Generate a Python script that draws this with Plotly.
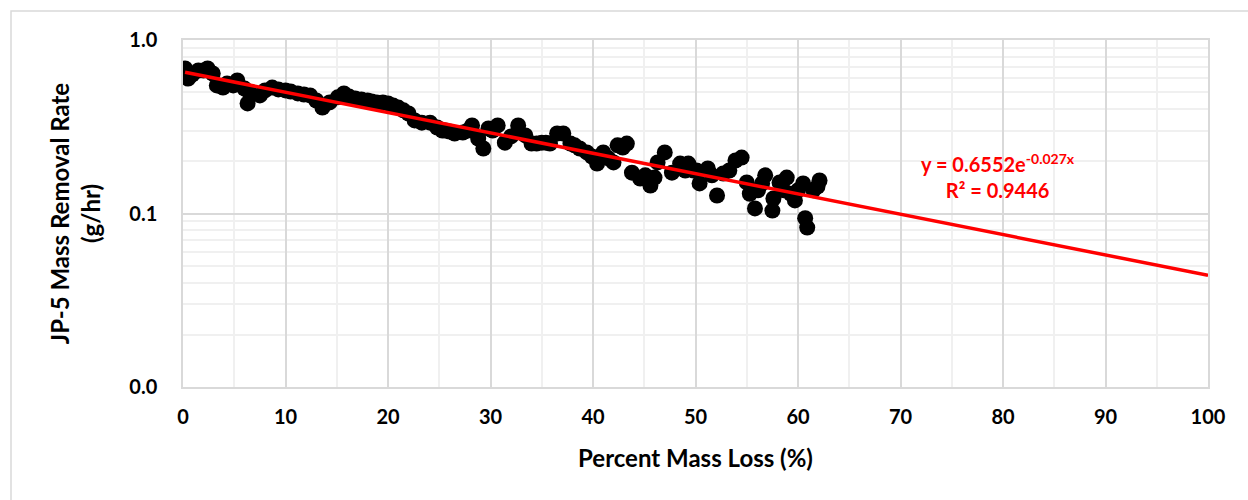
import numpy as np
import plotly.graph_objects as go

# Scatter data (Percent Mass Loss %, Mass Removal Rate g/hr)
mass_loss = [0.2, 0.5, 0.9, 1.5, 2.0, 2.4, 2.9, 3.3, 3.9, 4.3, 4.9, 5.3, 6.0, 6.3, 6.5,
             7.5, 8.0, 8.7, 9.3, 10.0, 10.5, 11.2, 11.8, 12.4, 13.0, 13.6, 14.3, 15.1,
             15.7, 16.2, 16.8, 17.4, 18.0, 18.4, 18.9, 19.5, 20.0, 20.5, 21.0, 21.5,
             22.0, 22.6, 23.3, 24.1, 24.8, 25.3, 25.6, 26.0, 26.5, 27.3, 27.8, 28.2,
             28.8, 29.3, 29.8, 30.2, 30.7, 31.4, 32.0, 32.7, 33.4, 34.0, 34.5, 35.0,
             35.4, 35.8, 36.5, 37.1, 37.8, 38.2, 38.7, 39.4, 39.9, 40.4, 41.0, 41.5,
             42.0, 42.4, 42.9, 43.3, 43.8, 44.6, 45.1, 45.6, 46.0, 46.3, 47.0, 47.7,
             48.5, 49.0, 49.3, 49.8, 50.1, 50.4, 51.2, 51.6, 52.1, 52.7, 53.3, 53.9,
             54.5, 55.0, 55.3, 55.8, 56.1, 56.5, 56.8, 57.5, 57.6, 58.2, 58.6, 58.9,
             59.3, 59.7, 60.0, 60.5, 60.7, 60.9, 61.5, 61.9, 62.1]
removal_rate = [0.686, 0.600, 0.632, 0.667, 0.667, 0.686, 0.641, 0.547, 0.532, 0.561, 0.547,
                0.585, 0.525, 0.431, 0.498, 0.479, 0.512, 0.532, 0.519, 0.512, 0.505, 0.492,
                0.485, 0.479, 0.448, 0.408, 0.437, 0.467, 0.492, 0.472, 0.460, 0.454, 0.448,
                0.442, 0.437, 0.437, 0.431, 0.419, 0.408, 0.393, 0.377, 0.344, 0.334, 0.334,
                0.313, 0.301, 0.301, 0.297, 0.289, 0.293, 0.301, 0.322, 0.270, 0.237, 0.309,
                0.301, 0.322, 0.256, 0.278, 0.322, 0.282, 0.253, 0.253, 0.256, 0.256, 0.253,
                0.289, 0.289, 0.253, 0.247, 0.237, 0.225, 0.213, 0.194, 0.225, 0.208, 0.197,
                0.247, 0.240, 0.253, 0.172, 0.159, 0.166, 0.145, 0.161, 0.197, 0.225, 0.172,
                0.194, 0.177, 0.194, 0.177, 0.177, 0.149, 0.182, 0.166, 0.127, 0.170, 0.177,
                0.202, 0.210, 0.151, 0.130, 0.107, 0.136, 0.149, 0.166, 0.104, 0.122, 0.151,
                0.136, 0.161, 0.130, 0.119, 0.136, 0.149, 0.094, 0.083, 0.136, 0.143, 0.155]

# Exponential trendline parameters (from chart label)
trend_a = 0.6552
trend_b = -0.027
trend_x_end = 100
trend_label = "y = 0.6552e<sup>-0.027x</sup><br>R² = 0.9446"

x_ticks = list(range(0, 101, 10))
y_tickvals = [0.01, 0.1, 1.0]
y_ticktext = ["0.0", "0.1", "1.0"]

trend_x = np.linspace(min(mass_loss), trend_x_end, 200)
trend_y = trend_a * np.exp(trend_b * trend_x)

font_family = "Lato, Carlito, Calibri, sans-serif"

fig = go.Figure()
fig.add_trace(go.Scatter(
    x=mass_loss, y=removal_rate, mode="markers",
    marker=dict(color="black", size=16, line=dict(width=0)),
    showlegend=False, hoverinfo="x+y"))
fig.add_trace(go.Scatter(
    x=trend_x, y=trend_y, mode="lines",
    line=dict(color="#ff0000", width=3.5),
    showlegend=False, hoverinfo="skip"))

minor_y = [v * d for d in (0.01, 0.1) for v in range(2, 10)]

fig.update_layout(
    width=1248, height=500,
    margin=dict(l=183, r=40, t=40, b=113),
    paper_bgcolor="white", plot_bgcolor="white",
    font=dict(family=font_family, color="black", size=19),
    xaxis=dict(
        range=[0, 100], tickvals=x_ticks, ticks="",
        showgrid=True, gridcolor="#d9d9d9", gridwidth=1.5,
        minor=dict(dtick=5, tick0=0, showgrid=True, gridcolor="#f0f0f0", gridwidth=1.5),
        showline=True, mirror=True, linecolor="#d9d9d9", linewidth=1.5,
        zeroline=False, ticklabelstandoff=11,
        tickfont=dict(size=20, family=font_family, weight="bold"),
        title=dict(text="<b>Percent Mass Loss (%)</b>", font=dict(size=24), standoff=23),
    ),
    yaxis=dict(
        type="log", range=[-2, 0], tickvals=y_tickvals, ticktext=y_ticktext, ticks="",
        showgrid=True, gridcolor="#d9d9d9", gridwidth=1.5,
        minor=dict(tickvals=minor_y, showgrid=True, gridcolor="#f0f0f0", gridwidth=1.5, ticks=""),
        showline=True, mirror=True, linecolor="#d9d9d9", linewidth=1.5,
        zeroline=False, ticklabelstandoff=20,
        tickfont=dict(size=20, family=font_family, weight="bold"),
        title=dict(text="<b>JP-5 Mass Removal Rate<br>(g/hr)</b>", font=dict(size=24), standoff=22),
    ),
    shapes=[dict(type="rect", xref="paper", yref="paper",
                 x0=-0.1678, x1=1.06, y0=-0.40, y1=1.0836,
                 line=dict(color="#d9d9d9", width=1.5), fillcolor="rgba(0,0,0,0)", layer="below")],
    annotations=[dict(x=79.5, y=np.log10(0.165), xref="x", yref="y", text="<b>" + trend_label + "</b>",
                      showarrow=False, font=dict(color="#ff0000", size=20, family=font_family),
                      align="center")],
)

fig.write_html("out.html")
